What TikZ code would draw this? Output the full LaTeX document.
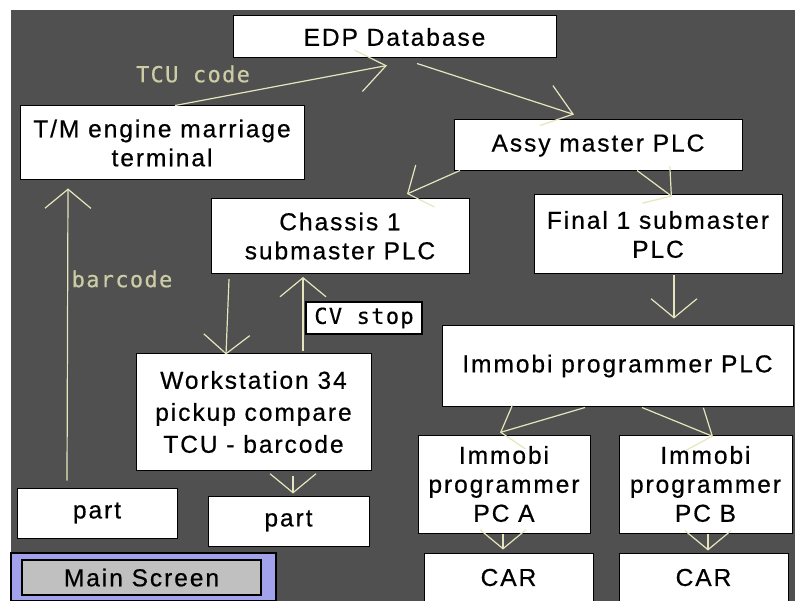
\documentclass[tikz,border=0pt]{standalone}
\usepackage{fontspec}
\newfontfamily\boxfont[LetterSpace=8,FakeBold=0.6]{Liberation Sans}
\newfontfamily\labfont[LetterSpace=6,FakeBold=0.4]{DejaVu Sans Mono}
\usetikzlibrary{arrows.meta,calc}
\definecolor{panelbg}{RGB}{80,80,80}
\definecolor{wire}{RGB}{230,230,190}
\definecolor{wiretext}{RGB}{205,205,165}
\definecolor{navpanel}{RGB}{162,162,236}
\definecolor{btngray}{RGB}{192,192,192}

\begin{document}
\begin{tikzpicture}[x=1pt,y=-1pt,
      station/.style={rectangle,draw=black,fill=white,line width=1pt,inner sep=0pt,
        align=center,font=\boxfont\fontsize{24.5}{29}\selectfont},
      tag/.style={text=wiretext,font=\labfont\fontsize{22}{24}\selectfont},
      flag/.style={rectangle,draw=black,fill=white,line width=1.5pt,inner sep=0pt,
        font=\labfont\fontsize{22}{24}\selectfont},
      arr/.style={draw=wire,line width=1.2pt,-{Straight Barb[length=19pt,width=46pt]}},
      bigarr/.style={draw=wire,line width=1.2pt,-{Straight Barb[length=28pt,width=42pt]}}]
      % Screen
      \fill[white] (0,0) rectangle (795,601);
      \fill[panelbg] (11,10) rectangle (795,601);
      \useasboundingbox (0,0) rectangle (795,601);
      % Stations
      \node[station,minimum width=323pt,minimum height=42pt] (edp) at (394.5,37) {EDP Database};
      \node[station,minimum width=284pt,minimum height=74pt] (tm) at (162,143) {T/M engine marriage\\terminal};
      \node[station,minimum width=288pt,minimum height=51pt] (assy) at (598,145.5) {Assy master PLC};
      \node[station,minimum width=258pt,minimum height=75pt] (chassis) at (340,236) {Chassis 1\\submaster PLC};
      \node[station,minimum width=248pt,minimum height=79pt] (final) at (658,234.5) {Final 1 submaster\\PLC};
      \node[station,minimum width=235pt,minimum height=116pt,font=\boxfont\fontsize{24.5}{32}\selectfont] (ws) at (253.5,412) {Workstation 34\\pickup compare\\TCU - barcode};
      \node[station,minimum width=351pt,minimum height=80pt] (immplc) at (617.5,366) {Immobi programmer PLC};
      \node[station,minimum width=172pt,minimum height=98pt] (pca) at (504,484) {Immobi\\programmer\\PC A};
      \node[station,minimum width=173pt,minimum height=98pt] (pcb) at (705.5,484) {Immobi\\programmer\\PC B};
      \node[station,minimum width=169pt,minimum height=49pt] (cara) at (508.5,577.5) {CAR};
      \node[station,minimum width=169pt,minimum height=49pt] (carb) at (703.5,577.5) {CAR};
      \node[station,minimum width=160pt,minimum height=50pt] (partl) at (97,513) {part};
      \node[station,minimum width=161pt,minimum height=50pt] (partm) at (288.5,521) {part};
      % Labels
      \node[tag] (tcucode) at (193,74) {TCU code};
      \node[tag] (barcode) at (122,279) {barcode};
      \node[flag,minimum width=116pt,minimum height=32pt] (cvstop) at (364,318) {CV stop};
      % Flows
      \draw[bigarr] ($(tm.north)+(13,0)$) -- ($(edp.south)+(-7.5,7)$);
      \draw[bigarr] ($(edp.south)+(22.5,5)$) -- ($(assy.north)+(-24,-5)$);
      \draw[arr] ($(assy.south)+(-138,-1)$) -- ($(chassis.north)+(67,-4)$);
      \draw[arr] ($(assy.south)+(39,-1)$) -- ($(final.north)+(14,2)$);
      \draw[arr] ($(final.south)+(16,1)$) -- ($(immplc.north)+(56.5,-7)$);
      \draw[arr] ($(immplc.south)+(-32.5,1)$) -- ($(pca.north)+(-4,-2)$);
      \draw[arr] ($(immplc.south)+(24.5,1)$) -- ($(pcb.north)+(7.5,2)$);
      \draw[arr] ($(pca.south)+(-1,0)$) -- ($(cara.north)+(-5.5,-3)$);
      \draw[arr] ($(pcb.south)+(2.5,0)$) -- ($(carb.north)+(4.5,-2)$);
      \draw[arr] ($(ws.south)+(39.5,5)$) -- ($(partm.north)+(4.5,-2)$);
      \draw[arr] ($(chassis.south)+(-111,5)$) -- ($(ws.north)+(-27.5,1)$);
      \draw[arr] ($(ws.north)+(49.5,-2)$) -- ($(chassis.south)+(-37,3)$);
      \draw[arr] ($(partl.north)+(-30,-7)$) -- ($(tm.south)+(-94,8)$);
      % Navigation
      \node[draw=black,line width=1.5pt,fill=navpanel,minimum width=265pt,minimum height=48pt] (navbar) at (143.5,577) {};
      \node[draw=black,line width=1.5pt,fill=btngray,inner sep=0pt,minimum width=239pt,minimum height=35pt,
        font=\boxfont\fontsize{24.5}{29}\selectfont] (mainbtn) at (141.5,577.5) {Main Screen};
\end{tikzpicture}
\end{document}
